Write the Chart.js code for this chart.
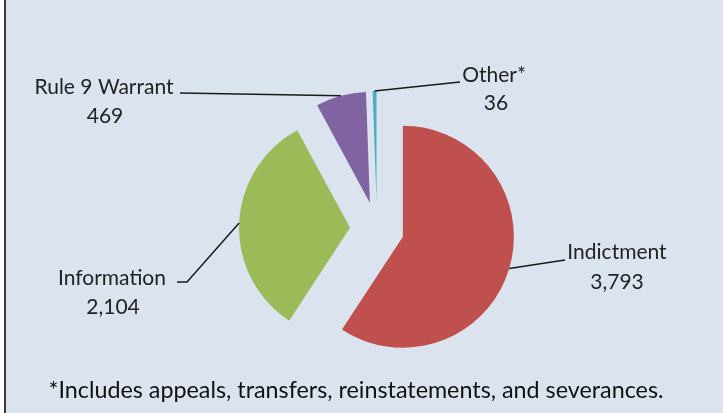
<!DOCTYPE html>
<html><head><meta charset="utf-8">
<script src="https://cdn.jsdelivr.net/npm/chart.js@4"></script>
<style>
html,body{margin:0;padding:0;background:#fff;overflow:hidden;}
#frame{position:absolute;left:4px;top:0;width:717px;height:413px;background:#dbe3ef;border-left:2px solid #3a3a3a;}
#c{position:absolute;left:0;top:0;}
</style></head><body>
<div id="frame"></div>
<canvas id="c" width="723" height="413"></canvas>
<script>
const categories = ['Indictment', 'Information', 'Rule 9 Warrant', 'Other*'];
const values = [3793, 2104, 469, 36];
const valueLabels = ['3,793', '2,104', '469', '36'];
const colors = ['#c0504d', '#9bbb59', '#8064a2', '#4bacc6'];
const footnote = '*Includes appeals, transfers, reinstatements, and severances.';

const EXPLODE = 27;
const FONT = 'Lato, "Noto Sans", sans-serif';

// exploded slices: each arc is pushed out along its bisector, radius unchanged
Chart.ArcElement.prototype.draw = function (ctx) {
  const half = (this.startAngle + this.endAngle) / 2;
  const cx = this.x + Math.cos(half) * EXPLODE;
  const cy = this.y + Math.sin(half) * EXPLODE;
  ctx.save();
  ctx.beginPath();
  ctx.moveTo(cx, cy);
  ctx.arc(cx, cy, this.outerRadius, this.startAngle, this.endAngle);
  ctx.closePath();
  ctx.fillStyle = this.options.backgroundColor;
  ctx.fill();
  ctx.restore();
};

// label layout: leader path (after the slice anchor) and text anchors
const labelLayout = [
  { path: [[565, 260]], name: [617, 252], value: [617, 282] },
  { path: [[187, 282], [177, 282]], name: [112, 278], value: [113, 307] },
  { path: [[180, 93]], name: [104, 87], value: [105, 116] },
  { path: [[460, 82]], name: [494, 75], value: [496, 103] }
];

const labelPlugin = {
  id: 'labels',
  afterDraw(chart) {
    const ctx = chart.ctx;
    const meta = chart.getDatasetMeta(0);
    ctx.save();
    meta.data.forEach((arc, i) => {
      const half = (arc.startAngle + arc.endAngle) / 2;
      const r = arc.outerRadius + EXPLODE;
      const sx = arc.x + Math.cos(half) * r;
      const sy = arc.y + Math.sin(half) * r;
      const L = labelLayout[i];
      ctx.strokeStyle = '#1a1a1a';
      ctx.lineWidth = 1.5;
      ctx.beginPath();
      ctx.moveTo(sx, sy);
      L.path.forEach(p => ctx.lineTo(p[0], p[1]));
      ctx.stroke();
      ctx.fillStyle = '#222';
      ctx.font = '21px ' + FONT;
      ctx.textAlign = 'center';
      ctx.textBaseline = 'middle';
      ctx.fillText(categories[i], L.name[0], L.name[1]);
      ctx.fillText(valueLabels[i], L.value[0], L.value[1]);
    });
    ctx.font = '24px ' + FONT;
    ctx.fillStyle = '#111';
    ctx.textAlign = 'center';
    ctx.textBaseline = 'middle';
    ctx.fillText(footnote, 356, 390, 615);
    ctx.restore();
  }
};

new Chart(document.getElementById('c'), {
  type: 'pie',
  data: {
    labels: categories,
    datasets: [{
      data: values,
      backgroundColor: colors,
      borderWidth: 0,
      radius: 111
    }]
  },
  options: {
    responsive: false,
    animation: false,
    layout: { padding: { left: 177, right: 146, top: 79, bottom: 34 } },
    plugins: { legend: { display: false }, tooltip: { enabled: false } }
  },
  plugins: [labelPlugin]
});
</script>
</body></html>
